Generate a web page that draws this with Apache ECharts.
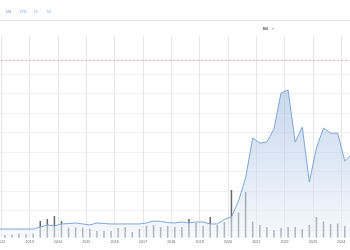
<!DOCTYPE html>
<html><head><meta charset="utf-8">
<script src="https://cdn.jsdelivr.net/npm/echarts@6/dist/echarts.min.js"></script>
<style>html,body{margin:0;padding:0;background:#fff}#c{width:350px;height:250px}</style>
</head><body><div id="c"></div>
<script>
// Quarters (mid-quarter points)
const quarters = ['2011-Q4',
 '2012-Q1','2012-Q2','2012-Q3','2012-Q4',
 '2013-Q1','2013-Q2','2013-Q3','2013-Q4',
 '2014-Q1','2014-Q2','2014-Q3','2014-Q4',
 '2015-Q1','2015-Q2','2015-Q3','2015-Q4',
 '2016-Q1','2016-Q2','2016-Q3','2016-Q4',
 '2017-Q1','2017-Q2','2017-Q3','2017-Q4',
 '2018-Q1','2018-Q2','2018-Q3','2018-Q4',
 '2019-Q1','2019-Q2','2019-Q3','2019-Q4',
 '2020-Q1','2020-Q2','2020-Q3','2020-Q4',
 '2021-Q1','2021-Q2','2021-Q3','2021-Q4',
 '2022-Q1','2022-Q2','2022-Q3','2022-Q4',
 '2023-Q1','2023-Q2','2023-Q3','2023-Q4',
 '2024-Q1','2024-Q2'];
// Main series (Bil)
const capValues = [5,
 5,5,5,5,
 5,15,26,21,
 31,33,36,31,
 26,36,33,31,
 31,31,31,31,
 36,46,44,38,
 36,41,36,41,
 41,31,31,54,
 67,149,267,472,
 446,451,518,703,
 718,451,528,246,
 421,523,497,497,
 354,390];
// Quarterly bars (secondary scale)
const barValues = [null,
 2.5,3,4,3.5,
 4,16.5,18.5,21.5,
 16.5,10,10,10,
 9,6.5,6.5,6.5,
 9.5,10.5,5.5,8.5,
 11.5,12.5,10.5,11.5,
 10.5,10.5,18.5,14.5,
 11.5,20.5,12.5,15.5,
 47.5,25,45.5,16,
 12.5,10.5,7.5,9.5,
 10.5,10.5,8.5,12.5,
 20.5,16,13.5,14,
 11.5,null];
const rangeButtons = ['6M','YTD','1Y','5Y'];
const unitLabel = 'Bil';
const refLevel = 872;
const gridLevels = [0,1,2,3,4,5,6,7,8];

function qx(q){ const y=+q.slice(0,4), n=+q.slice(6); return y + (n-1)*0.25 + 0.125; }

const lineData = quarters.map((q,i)=>[qx(q), capValues[i]]);
const barData = quarters.map((q,i)=>[qx(q), barValues[i]]).filter(d=>d[1]!=null);

const chart = echarts.init(document.getElementById('c'), null, {renderer:'canvas'});
const btnX = [8.5, 23, 36, 49];
chart.setOption({
  animation:false,
  grid:[
    {left:1.3, right:0, top:36, bottom:12.5, outerBoundsMode:'none', containLabel:false},
    {left:0, right:0, top:74, bottom:20, outerBoundsMode:'none', containLabel:false}
  ],
  xAxis:[
    {type:'value', gridIndex:0, min:2012, max:2024.31, interval:1,
     axisLine:{show:false}, axisTick:{show:false},
     axisLabel:{fontSize:3.7, color:'#666', margin:2.2, fontFamily:'Liberation Sans',
       formatter:v=>Number.isInteger(v)?String(v):''},
     splitLine:{show:true, showMaxLine:false, lineStyle:{color:'#e6e6e6', width:1}}},
    {type:'value', gridIndex:1, min:0, max:1, show:false}
  ],
  yAxis:[
    {type:'value', gridIndex:0, min:-38.5, max:995, show:false},
    {type:'value', gridIndex:0, min:0, max:201.5, show:false},
    {type:'value', gridIndex:1, min:0, max:8, interval:1,
     axisLine:{show:false}, axisTick:{show:false}, axisLabel:{show:false},
     splitLine:{show:true, lineStyle:{color:'#f2f2f2', width:1}}}
  ],
  series:[
    {type:'bar', xAxisIndex:0, yAxisIndex:1, data:barData, barWidth:1.5,
     itemStyle:{color:'#666'}, silent:true},
    {type:'line', xAxisIndex:0, yAxisIndex:0, data:lineData, showSymbol:false, symbol:'none',
     clip:true,
     lineStyle:{color:'#7ea6d8', width:1},
     areaStyle:{origin:'start', color:new echarts.graphic.LinearGradient(0,0,0,1,[
       {offset:0, color:'rgba(150,180,222,0.72)'},
       {offset:1, color:'rgba(240,245,251,0.8)'}])},
     markLine:{silent:true, symbol:'none', label:{show:false},
       lineStyle:{color:'#f2a99b', type:[2,2], width:1},
       data:[{yAxis:refLevel}]}}
  ],
  graphic:[
    {type:'line', shape:{x1:0,y1:20.5,x2:350,y2:20.5}, style:{stroke:'#e3e3e3', lineWidth:1}},
    ...rangeButtons.map((t,i)=>({type:'text', x:btnX[i], y:12, style:{text:t, fill:'#6f9fd8',
       font:'3.8px "Liberation Sans"', textAlign:'center', textVerticalAlign:'middle', align:'center', verticalAlign:'middle'}})),
    {type:'text', x:265.5, y:28.5, style:{text:unitLabel, fill:'#555', font:'bold 4px "Liberation Sans"',
       textAlign:'center', textVerticalAlign:'middle', align:'center', verticalAlign:'middle'}},
    {type:'text', x:273, y:29, style:{text:'▾', fill:'#aaa', font:'4px "DejaVu Sans"',
       textAlign:'center', textVerticalAlign:'middle', align:'center', verticalAlign:'middle'}}
  ]
});
</script></body></html>
